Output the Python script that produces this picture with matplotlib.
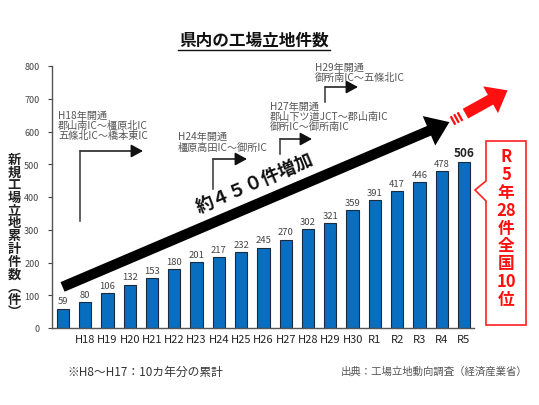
import matplotlib
matplotlib.use("Agg")
import matplotlib.pyplot as plt
from matplotlib.patches import FancyArrowPatch, Polygon

plt.rcParams['font.family'] = ['Noto Sans CJK JP', 'DejaVu Sans']

years = ['', 'H18', 'H19', 'H20', 'H21', 'H22', 'H23', 'H24', 'H25', 'H26',
         'H27', 'H28', 'H29', 'H30', 'R1', 'R2', 'R3', 'R4', 'R5']
counts = [59, 80, 106, 132, 153, 180, 201, 217, 232, 245,
          270, 302, 321, 359, 391, 417, 446, 478, 506]
yticks = [0, 100, 200, 300, 400, 500, 600, 700, 800]

W, H = 539, 406


def fp(x, y):
    # pixel position -> figure fraction
    return (x / W, 1 - y / H)


fig = plt.figure(figsize=(W / 100, H / 100), dpi=100)
ax = fig.add_axes([52 / W, 1 - 329 / H, (474 - 52) / W, (329 - 67) / H])

xs = list(range(len(counts)))
ax.bar(xs, counts, width=0.55, color='#0a6ec0', edgecolor='#1a2a40', linewidth=0.8, zorder=2)
for x, v in zip(xs, counts):
    if x == len(counts) - 1:
        ax.text(x, v + 10, str(v), ha='center', va='bottom', fontsize=8.5, fontweight='bold', color='#222222')
    else:
        ax.text(x, v + 10, str(v), ha='center', va='bottom', fontsize=6.8, color='#444444')

ax.set_xlim(-0.49, 18.45)
ax.set_ylim(0, 800)
ax.set_yticks(yticks)
ax.set_yticklabels([str(t) for t in yticks], fontsize=6.5, color='#444444')
ax.set_xticks(xs)
ax.set_xticklabels(years, fontsize=8, color='#222222')
ax.tick_params(axis='x', length=0, pad=4)
ax.tick_params(axis='y', length=3, width=0.8, color='#444444', pad=6)
for s in ['top', 'right']:
    ax.spines[s].set_visible(False)
for s in ['left', 'bottom']:
    ax.spines[s].set_color('#555555')
    ax.spines[s].set_linewidth(1.0)

# title
fig.text(*fp(254, 41), '県内の工場立地件数', ha='center', va='center', fontsize=12,
         fontweight='bold', color='#111111')
fig.add_artist(plt.Line2D([178 / W, 330 / W], [1 - 51 / H, 1 - 51 / H], color='#111111', lw=1))

# y label (stacked)
ylab = '新規工場立地累計件数︵件︶'
for i, ch in enumerate(ylab):
    fig.text(*fp(14, 160 + i * 12.7), ch, ha='center', va='center', fontsize=9.5,
             fontweight='bold', color='#222222')

# road opening notes with elbow arrows
notes = [
    (58, 126, 'H18年開通\n郡山南IC～橿原北IC\n五條北IC～橋本東IC', 80, 222, 152, 143),
    (178, 142.5, 'H24年開通\n橿原高田IC～御所IC', 213, 190, 160, 247),
    (270, 117, 'H27年開通\n郡山下ツ道JCT～郡山南IC\n御所IC～御所南IC', 280, 155, 140, 312),
    (315, 73, 'H29年開通\n御所南IC～五條北IC', 325, 103, 88, 358),
]
for tx, ty, txt, vx, vy0, vy1, hx in notes:
    fig.text(*fp(tx, ty), txt, ha='left', va='center', fontsize=7.3, color='#555555',
             linespacing=1.05)
    fig.add_artist(plt.Line2D([vx / W, vx / W], [1 - vy0 / H, 1 - vy1 / H], color='#333333', lw=1.1))
    fig.add_artist(FancyArrowPatch(fp(vx, vy1), fp(hx, vy1), transform=fig.transFigure,
                                   arrowstyle='-|>,head_length=3.3,head_width=1.8', color='#111111',
                                   lw=1.1, mutation_scale=2.2, shrinkA=0, shrinkB=0))

# big trend arrow
fig.add_artist(FancyArrowPatch(fp(60, 289), fp(452, 122), transform=fig.transFigure,
                               arrowstyle='simple,head_length=1.6,head_width=2.3,tail_width=0.75',
                               mutation_scale=10, color='black', lw=0))
fig.text(*fp(255, 183), '約４５０件増加', ha='center', va='center', fontsize=13, fontweight='bold',
         rotation=23, color='#111111')

# red arrow with striped tail
fig.add_artist(FancyArrowPatch(fp(463, 116), fp(510, 90), transform=fig.transFigure,
                               arrowstyle='simple,head_length=1.4,head_width=2.2,tail_width=0.8',
                               mutation_scale=10, color='#ff1010', lw=0))
for k in range(3):
    x0 = 452 + k * 3.5
    y0 = 122 - k * 1.9
    fig.add_artist(plt.Line2D([x0 / W, (x0 + 2) / W], [1 - y0 / H, 1 - (y0 - 1.1) / H],
                              color='#ff1010', lw=7, solid_capstyle='butt'))

# callout box
box = [(486, 142), (526, 142), (526, 326), (486, 326), (486, 202), (475, 191), (486, 182)]
fig.add_artist(Polygon([fp(x, y) for x, y in box], closed=True, transform=fig.transFigure,
                       facecolor='white', edgecolor='#ff2020', lw=1.2))
box_lines = ['R', '5', '年', '28', '件', '全', '国', '10', '位']
for i, s in enumerate(box_lines):
    fig.text(*fp(506, 157 + i * 17.9), s, ha='center', va='center', fontsize=12,
             fontweight='bold', color='#ff1010')

# footnotes
fig.text(*fp(67, 372), '※H8～H17：10カ年分の累計', ha='left', va='center', fontsize=8.5, color='#333333')
fig.text(*fp(528, 372), '出典：工場立地動向調査（経済産業省）', ha='right', va='center', fontsize=7.5,
         color='#555555')

fig.savefig('out.png', dpi=100)
